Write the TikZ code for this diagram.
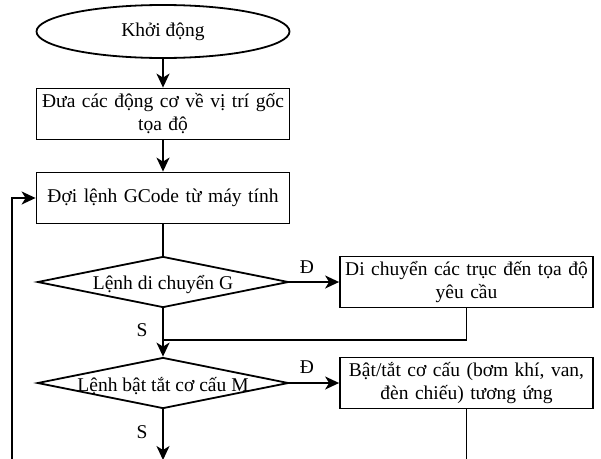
\documentclass[tikz,border=0pt]{standalone}
\usepackage{fontspec}
\setmainfont{Liberation Serif}
\usetikzlibrary{shapes.geometric,arrows.meta}
\begin{document}
\begin{tikzpicture}[x=1pt,y=-1pt,
  every node/.style={font=\fontsize{19.5}{23}\selectfont},
  boxst/.style={draw, line width=1.8pt, rectangle, minimum width=253pt, minimum height=51pt, text width=248pt, align=center, inner sep=2pt},
  ellst/.style={draw, line width=1.8pt, ellipse, minimum width=253pt, minimum height=53pt, inner sep=0pt},
  diast/.style={draw, line width=1.8pt, diamond, minimum width=251pt, minimum height=51pt, inner sep=0pt},
  conn/.style={line width=1.8pt},
  arr/.style={conn, -{Stealth[length=14pt,width=13pt,inset=4pt]}},
  lab/.style={inner sep=0pt}
]
\useasboundingbox (0,0) rectangle (601,458);
\node[ellst] (start) at (163,31.5) {Khởi động};
\node[boxst] (b1) at (163,114) {Đưa các động cơ về vị trí gốc\\tọa độ};
\node[boxst] (b2) at (163,198) {Đợi lệnh GCode từ máy tính};
\node[diast, label={[lab,yshift=-3pt]center:Lệnh di chuyển G}] (d1) at (163,282) {};
\node[boxst] (b3) at (466.5,282) {Di chuyển các trục đến tọa độ\\yêu cầu};
\node[diast, label={[lab,yshift=-3pt]center:Lệnh bật tắt cơ cấu M}] (d2) at (163,383) {};
\node[boxst] (b4) at (466.5,383) {Bật/tắt cơ cấu (bơm khí, van,\\đèn chiếu) tương ứng};
\coordinate (j1) at (163,340);
\coordinate (endd) at (163,460);
\coordinate (endb) at (466.5,470);
\coordinate (loopb) at (12,470);
\coordinate (loopt) at (12,198);
\draw[arr] (start.south) -- (b1.north);
\draw[arr] (b1.south) -- (b2.north);
\draw[conn] (b2.south) -- (d1.north);
\draw[arr] (d1.east) -- (b3.west);
\draw[arr] (d1.south) -- (d2.north);
\draw[conn] (b3.south) |- (j1);
\draw[arr] (d2.east) -- (b4.west);
\draw[arr] (d2.south) -- (endd);
\draw[conn] (b4.south) -- (endb);
\draw[arr] (loopb) -- (loopt) -- (b2.west);
\node[lab] (yes1) at (307,267) {Đ};
\node[lab] (yes2) at (307,367) {Đ};
\node[lab] (no1) at (142,330) {S};
\node[lab] (no2) at (142,432) {S};
\end{tikzpicture}
\end{document}
